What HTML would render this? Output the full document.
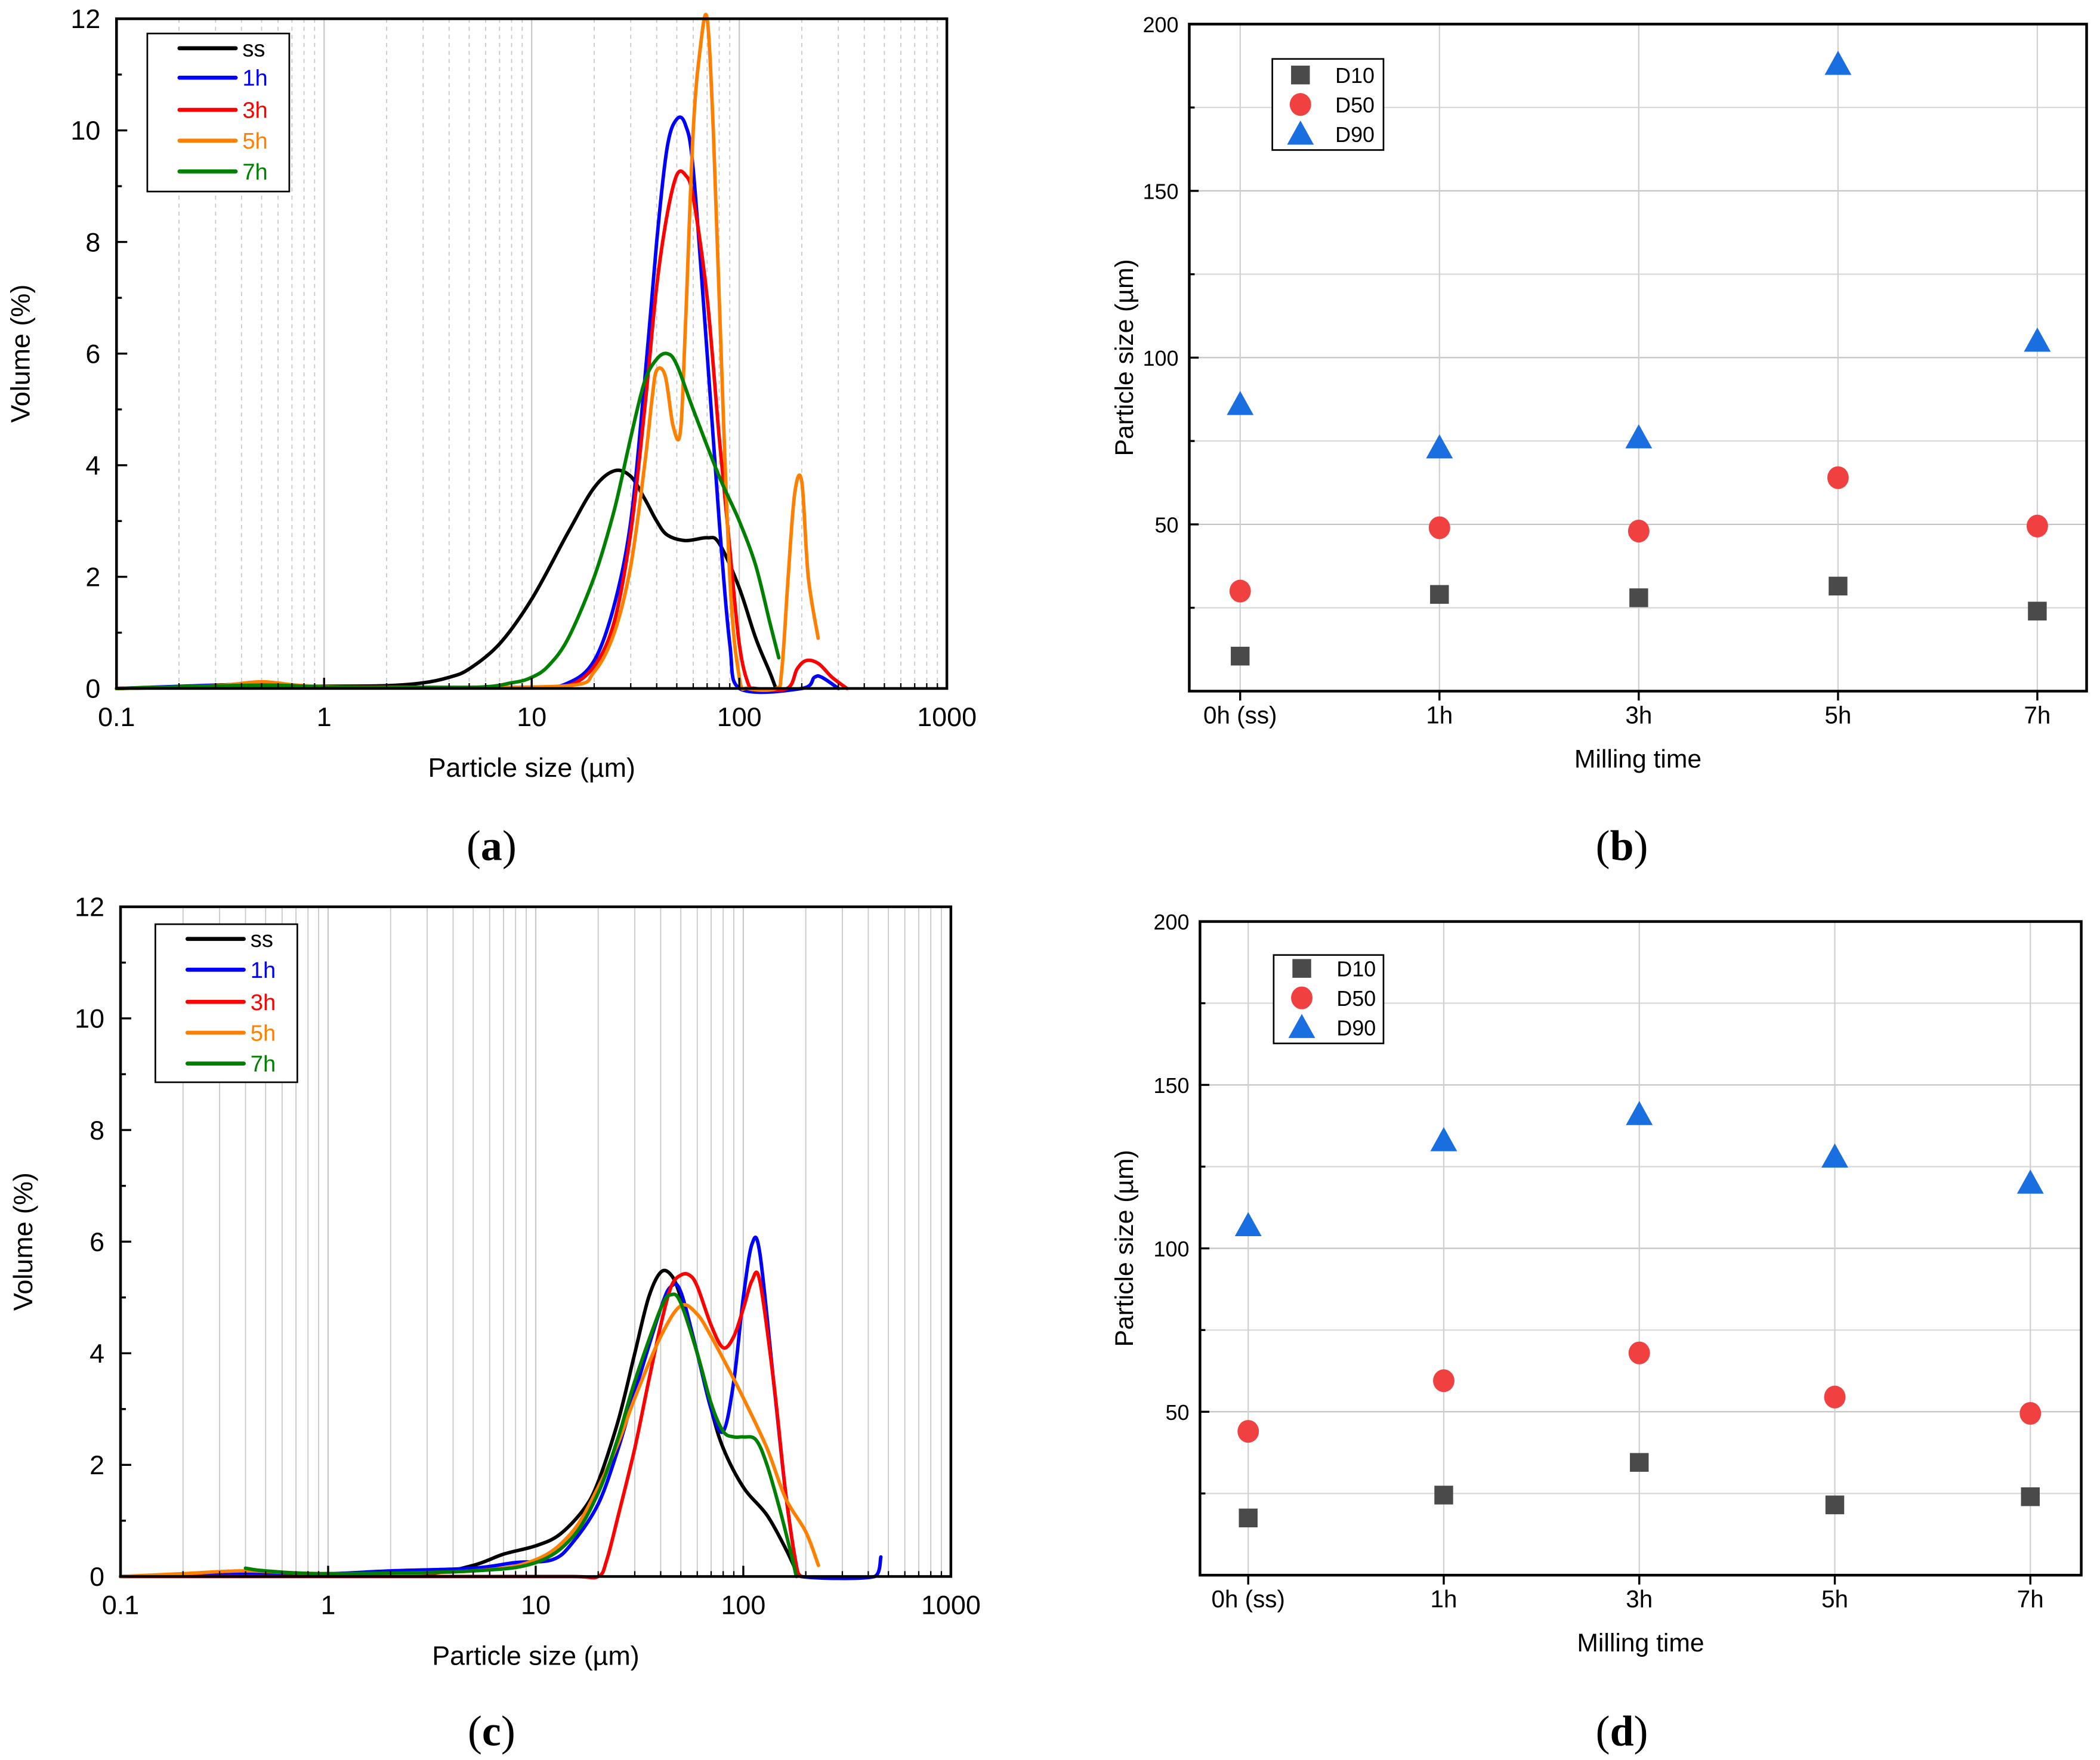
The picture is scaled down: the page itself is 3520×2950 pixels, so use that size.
<!DOCTYPE html>
<html><head><meta charset="utf-8"><style>
html,body{margin:0;padding:0;background:#fff}
svg{display:block}
</style></head><body>
<svg id="fig" width="3520" height="2950" viewBox="0 0 1568 1314" preserveAspectRatio="none" xmlns="http://www.w3.org/2000/svg" font-family="Liberation Sans, sans-serif"></svg>
<script>
// ---------- data ----------
const seriesNames = ["ss","1h","3h","5h","7h"];
const seriesColors = ["#000000","#0000ff","#ff0000","#ff8000","#008000"];
// panel (a): [size µm, volume %]
const aSS = [[0.1,0],[0.2,0.02],[0.5,0.05],[1,0.04],[2,0.05],[3,0.1],[4,0.2],[5,0.35],[7,0.8],[10,1.6],[15,2.8],[20,3.6],[25,3.9],[30,3.8],[35,3.4],[40,3.0],[45,2.75],[55,2.65],[70,2.7],[80,2.6],[100,1.8],[120,0.9],[140,0.3],[150,0]];
const a1h = [[0.1,0],[0.3,0.06],[0.5,0.08],[0.8,0.03],[2,0.02],[10,0.02],[15,0.1],[20,0.5],[25,1.5],[30,3],[35,5.5],[40,8],[45,9.7],[50,10.2],[55,10.1],[60,9.3],[70,6],[80,3],[90,0.8],[100,0],[200,0],[230,0.2],[250,0.2],[300,0]];
const a3h = [[0.1,0],[0.5,0.05],[1,0.03],[10,0.02],[15,0.05],[20,0.4],[25,1.2],[30,2.8],[35,5],[40,7.2],[45,8.5],[50,9.2],[55,9.2],[60,8.8],[70,7],[80,4.5],[90,2.5],[100,0.8],[110,0.1],[120,0],[170,0],[190,0.35],[210,0.5],[240,0.45],[280,0.2],[330,0]];
const a5h = [[0.1,0],[0.3,0.05],[0.5,0.12],[0.8,0.05],[2,0.02],[15,0.05],[20,0.3],[25,1],[30,2.2],[35,4],[38,5.2],[40,5.7],[44,5.6],[48,4.7],[52,4.6],[55,6.5],[60,10],[65,11.5],[70,12],[75,10],[80,7],[90,2],[100,0.2],[110,0],[150,0],[160,0.3],[172,2],[185,3.5],[200,3.7],[215,2],[240,0.9]];
const a7h = [[0.1,0],[0.5,0.06],[1,0.03],[5,0.02],[8,0.1],[10,0.2],[12,0.4],[15,0.9],[20,2],[25,3.2],[30,4.5],[35,5.5],[40,5.9],[45,6],[50,5.8],[60,5],[80,3.8],[100,3],[120,2.2],[140,1.2],[155,0.55]];
// panel (c)
const cSS = [[0.1,0],[0.5,0.05],[1,0.03],[3,0.05],[5,0.2],[7,0.4],[10,0.55],[13,0.75],[17,1.2],[20,1.7],[25,2.8],[30,4],[35,5],[40,5.45],[45,5.4],[50,5.0],[60,4],[70,3],[80,2.3],[100,1.6],[130,1.1],[160,0.5],[180,0.1],[190,0]];
const c1h = [[0.1,0],[0.5,0.05],[1,0.05],[2,0.1],[5,0.15],[8,0.25],[12,0.3],[15,0.6],[20,1.3],[25,2.3],[30,3.3],[40,4.8],[45,5.2],[50,5.1],[60,4],[70,3],[80,2.6],[90,3.5],[100,5],[110,5.95],[120,5.8],[140,3.5],[160,1.5],[180,0.2],[190,0],[430,0],[460,0.35]];
const c3h = [[0.1,0],[5,0],[15,0],[20,0],[22,0.3],[25,1.1],[30,2.3],[35,3.5],[40,4.5],[45,5.2],[50,5.4],[55,5.4],[60,5.2],[70,4.5],[80,4.1],[90,4.3],[100,4.8],[110,5.3],[120,5.3],[140,3.5],[160,1.5],[180,0.2],[190,0]];
const c5h = [[0.1,0],[0.2,0.05],[0.4,0.1],[1,0.05],[5,0.1],[10,0.3],[15,0.8],[20,1.6],[25,2.4],[30,3.2],[40,4.3],[50,4.85],[60,4.7],[70,4.3],[80,3.9],[100,3.2],[130,2.3],[160,1.4],[200,0.8],[230,0.2]];
const c7h = [[0.4,0.15],[0.5,0.1],[1,0.05],[5,0.1],[10,0.25],[15,0.7],[20,1.5],[25,2.5],[30,3.5],[40,4.8],[45,5.05],[50,4.9],[60,4],[70,3.1],[80,2.6],[90,2.5],[100,2.5],[115,2.45],[130,2],[150,1.2],[170,0.4],[180,0]];
// panels (b),(d)
const millCats = ["0h (ss)","1h","3h","5h","7h"];
const bD10 = [10.5,29,28,31.5,24];
const bD50 = [30,49,48,64,49.5];
const bD90 = [86,73,76,188,105];
const dD10 = [17.5,24.5,34.5,21.5,24];
const dD50 = [44,59.5,68,54.5,49.5];
const dD90 = [107,133,141,128,120];
const volTicks = [0,2,4,6,8,10,12];
const logTicks = [0.1,1,10,100,1000];
const sizeTicks = [50,100,150,200];

// ---------- helpers ----------
const NS="http://www.w3.org/2000/svg";
const svg=document.getElementById('fig');
function el(tag,attrs,parent,txt){const e=document.createElementNS(NS,tag);for(const k in attrs)e.setAttribute(k,attrs[k]);if(txt!==undefined)e.textContent=txt;(parent||svg).appendChild(e);return e;}
function clamp(v,a,b){const lo=Math.min(a,b),hi=Math.max(a,b);return Math.max(lo,Math.min(hi,v));}
function smoothPath(pts){
  let d='M'+pts[0][0].toFixed(1)+','+pts[0][1].toFixed(1);
  for(let i=0;i<pts.length-1;i++){
    const p0=pts[Math.max(0,i-1)],p1=pts[i],p2=pts[i+1],p3=pts[Math.min(pts.length-1,i+2)];
    const t=1/6;
    const c1=[clamp(p1[0]+(p2[0]-p0[0])*t,p1[0],p2[0]),p1[1]+(p2[1]-p0[1])*t];
    const c2=[clamp(p2[0]-(p3[0]-p1[0])*t,p1[0],p2[0]),p2[1]-(p3[1]-p1[1])*t];
    d+=` C${c1[0].toFixed(1)},${c1[1].toFixed(1)} ${c2[0].toFixed(1)},${c2[1].toFixed(1)} ${p2[0].toFixed(1)},${p2[1].toFixed(1)}`;
  }
  return d;
}
function panelLabel(x,y,letter){
  const pl=el('text',{x:x,y:y,'font-size':32,'text-anchor':'middle','font-family':'Liberation Serif, serif'},svg);
  el('tspan',{},pl,'(');el('tspan',{'font-weight':'bold'},pl,letter);el('tspan',{},pl,')');
  
  
}

function distPanel(id,box,series,dashedGrid,legend,label,ylabelX){
  const g=el('g',{});
  
  
  const [x0,y0,x1,y1]=box;
  const sx=v=>x0+(Math.log10(v)+1)/4*(x1-x0);
  const sy=v=>y1-v/12*(y1-y0);
  for(let d=-1;d<3;d++){for(let m=1;m<=9;m++){const v=m*Math.pow(10,d);if(v<=0.1)continue;
    const gl=el('line',{x1:sx(v),x2:sx(v),y1:y0,y2:y1,stroke:'#c8c8c8','stroke-width':m===1?1:0.8,'stroke-dasharray':(dashedGrid&&m!==1)?'3,3':'none'},g);
    
    }}
  series.forEach((s,i)=>{
    const pts=s.map(q=>[sx(q[0]),sy(q[1])]);
    const p=el('path',{d:smoothPath(pts),fill:'none',stroke:seriesColors[i],'stroke-width':2.6,'stroke-linejoin':'round','stroke-linecap':'round'},g);
    
    
  });
  el('rect',{x:x0,y:y0,width:x1-x0,height:y1-y0,fill:'none',stroke:'#000','stroke-width':2},g);
  logTicks.forEach(v=>{el('line',{x1:sx(v),x2:sx(v),y1:y1,y2:y1-8,stroke:'#000','stroke-width':1.5},g);
    const t=el('text',{x:sx(v),y:y1+28,'font-size':20,'text-anchor':'middle'},g,String(v));
    
    });
  for(let d=-1;d<3;d++)for(let m=2;m<=9;m++){const v=m*Math.pow(10,d);el('line',{x1:sx(v),x2:sx(v),y1:y1,y2:y1-4,stroke:'#000','stroke-width':1},g);}
  volTicks.forEach(v=>{el('line',{x1:x0,x2:x0+8,y1:sy(v),y2:sy(v),stroke:'#000','stroke-width':1.5},g);
    const t=el('text',{x:x0-12,y:sy(v)+7,'font-size':20,'text-anchor':'end'},g,String(v));
    
    
    if(v<12)el('line',{x1:x0,x2:x0+4,y1:sy(v+1),y2:sy(v+1),stroke:'#000','stroke-width':1.5},g);});
  const xt=el('text',{x:(x0+x1)/2,y:y1+66,'font-size':20,'text-anchor':'middle'},g,'Particle size (µm)');
  
  
  const yt=el('text',{x:0,y:0,'font-size':20,'text-anchor':'middle',transform:`translate(${ylabelX},${(y0+y1)/2}) rotate(-90)`},g,'Volume (%)');
  
  
  const [lx,ly,lw,lh,ys]=legend;
  const lg=el('g',{},g);
  
  
  el('rect',{x:lx,y:ly,width:lw,height:lh,fill:'#fff',stroke:'#000','stroke-width':1.2},lg);
  seriesNames.forEach((n,i)=>{el('line',{x1:lx+24,x2:lx+66,y1:ys[i],y2:ys[i],stroke:seriesColors[i],'stroke-width':3,'stroke-linecap':'round'},lg);
    const t=el('text',{x:lx+71,y:ys[i]+6,'font-size':17,fill:seriesColors[i]},lg,n);
    
    });
  panelLabel(label[0],label[1],label[2]);
}

function statPanel(id,box,d10,d50,d90,legend,label,ylabelX,xtickY){
  const g=el('g',{});
  
  
  const [x0,y0,x1,y1,c0,cStep]=box;
  const sy=v=>y1-v/200*(y1-y0);
  const cx=i=>c0+i*cStep;
  for(let v=25;v<200;v+=25){el('line',{x1:x0,x2:x1,y1:sy(v),y2:sy(v),stroke:v%50===0?'#c4c4c4':'#d8d8d8','stroke-width':1},g);
    el('line',{x1:x0,x2:x0+(v%50===0?7:4),y1:sy(v),y2:sy(v),stroke:'#000','stroke-width':1.5},g);}
  millCats.forEach((c,i)=>{el('line',{x1:cx(i),x2:cx(i),y1:y0,y2:y1,stroke:'#d0d0d0','stroke-width':1},g);
    el('line',{x1:cx(i),x2:cx(i),y1:y1,y2:y1+7,stroke:'#000','stroke-width':1.5},g);
    const t=el('text',{x:cx(i),y:y1+xtickY,'font-size':18,'text-anchor':'middle'},g,c);
    
    });
  el('rect',{x:x0,y:y0,width:x1-x0,height:y1-y0,fill:'none',stroke:'#000','stroke-width':2},g);
  sizeTicks.forEach(v=>{const t=el('text',{x:x0-8,y:sy(v)+6,'font-size':16,'text-anchor':'end'},g,String(v));
    
    });
  function sq(x,y,p){return el('rect',{x:x-7,y:y-7,width:14,height:14,fill:'#4a4a4a'},p);}
  function ci(x,y,p){return el('ellipse',{cx:x,cy:y,rx:8,ry:8.5,fill:'#f04040'},p);}
  function tr(x,y,p){return el('polygon',{points:`${x},${y-10} ${x-10},${y+8} ${x+10},${y+8}`,fill:'#1a6fe0'},p);}
  d10.forEach((v,i)=>{const m=sq(cx(i),sy(v),g);
    
    });
  d50.forEach((v,i)=>{const m=ci(cx(i),sy(v),g);
    
    });
  d90.forEach((v,i)=>{const m=tr(cx(i),sy(v),g);
    
    });
  const xt=el('text',{x:(x0+x1)/2,y:y1+xtickY+33,'font-size':19,'text-anchor':'middle'},g,'Milling time');
  
  
  const yt=el('text',{x:0,y:0,'font-size':19,'text-anchor':'middle',transform:`translate(${ylabelX},${(y0+y1)/2}) rotate(-90)`},g,'Particle size (µm)');
  
  
  const [lx,ly,lw,lh,ys]=legend;
  const lg=el('g',{},g);
  
  
  el('rect',{x:lx,y:ly,width:lw,height:lh,fill:'#fff',stroke:'#000','stroke-width':1.2},lg);
  sq(lx+21,ys[0],lg);ci(lx+21,ys[1],lg);tr(lx+21,ys[2],lg);
  ['D10','D50','D90'].forEach((n,i)=>{const t=el('text',{x:lx+47,y:ys[i]+6,'font-size':16},lg,n);
    
    });
  panelLabel(label[0],label[1],label[2]);
}

distPanel('panel-a',[87,14,707,514],[aSS,a1h,a3h,a5h,a7h],true,[110,25,106,118,[36,58,82,105,128]],[367,642,'a'],22);
statPanel('panel-b',[888,18,1558,516,926,148.8],bD10,bD50,bD90,[950,44,83,68,[56,78,100]],[1211,642,'b'],846,24);
distPanel('panel-c',[90,677,710,1177],[cSS,c1h,c3h,c5h,c7h],false,[116,690,106,118,[701,724,748,771,794]],[367,1303,'c'],24);
statPanel('panel-d',[896,688,1554,1176,932,146],dD10,dD50,dD90,[951,713,82,66,[723,745,767]],[1211,1303,'d'],846,24);
</script>
</body></html>
